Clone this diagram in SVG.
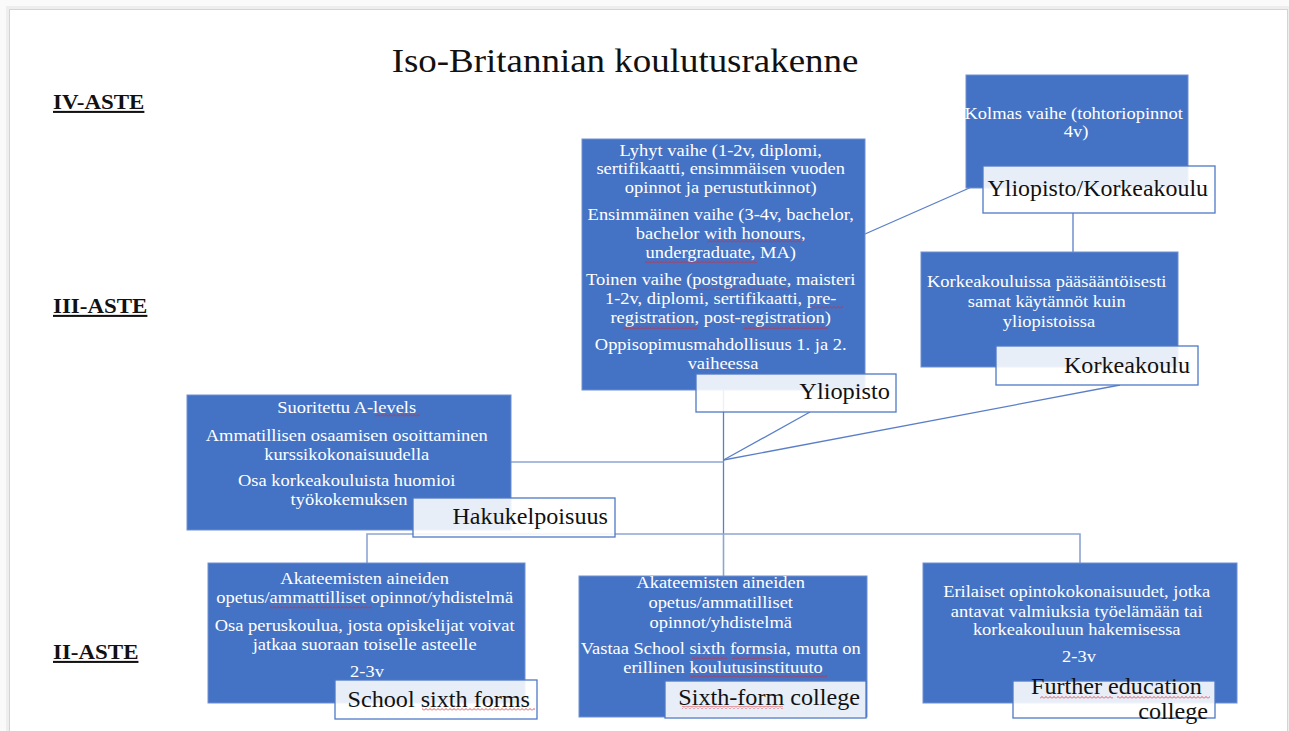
<svg xmlns="http://www.w3.org/2000/svg" width="1289" height="731" viewBox="0 0 1289 731">
  <defs>
    <!-- red wavy spell-check underline -->
    <pattern id="squiggle" patternUnits="userSpaceOnUse" width="4" height="3">
      <path d="M0 2.5 L2 0.5 L4 2.5" fill="none" stroke="#e0262b" stroke-width="0.8"/>
    </pattern>
    <style>
      .page { fill: #ffffff; stroke: #d4d4d4; stroke-width: 1; }
      .box { fill: #4472c4; stroke: #6f90cf; stroke-width: 1; }
      .tag { fill: #ffffff; fill-opacity: 0.88; stroke: #4f79c7; stroke-width: 1.3; }
      .body { font-family: "Liberation Serif", "Times New Roman", serif; font-size: 16.5px; fill: #ffffff; text-anchor: middle; }
      .lab { font-family: "Liberation Serif", "Times New Roman", serif; font-size: 23px; fill: #111111; text-anchor: end; }
      .title { font-family: "Liberation Serif", "Times New Roman", serif; font-size: 33px; fill: #111111; text-anchor: middle; }
      .level { font-family: "Liberation Serif", "Times New Roman", serif; font-size: 20.5px; font-weight: bold; fill: #111111; text-decoration: underline; }
      .link { stroke: #5a7fc8; stroke-width: 1.3; fill: none; }
      .bar { stroke: #8ea5d3; stroke-width: 1.6; fill: none; }
      .sq { fill: url(#squiggle); }
    </style>
  </defs>

  <!-- slide frame -->
  <rect x="0" y="0" width="1289" height="731" fill="#fafafa"/>
  <rect x="6" y="6" width="1283" height="725" fill="#eeeeee"/>
  <rect class="page" x="9.5" y="9.5" width="1278" height="725"/>

  <!-- title -->
  <g transform="translate(625 0) scale(1.12 1)">
    <text class="title" x="0" y="72">Iso-Britannian koulutusrakenne</text>
  </g>

  <!-- level headings -->
  <g id="levels">
    <g transform="translate(53 0) scale(1.12 1)"><text class="level" x="0" y="109">IV-ASTE</text></g>
    <g transform="translate(53 0) scale(1.12 1)"><text class="level" x="0" y="313">III-ASTE</text></g>
    <g transform="translate(53 0) scale(1.12 1)"><text class="level" x="0" y="659">II-ASTE</text></g>
  </g>

  <!-- connectors -->
  <g id="connectors">
    <line class="link" x1="865" y1="234" x2="983" y2="182"/>
    <line class="link" x1="1073" y1="213" x2="1073" y2="252"/>
    <line class="link" x1="723.5" y1="390" x2="723.5" y2="534"/>
    <line class="bar" x1="723.5" y1="534" x2="723.5" y2="576"/>
    <line class="link" x1="723.5" y1="460" x2="810" y2="412"/>
    <line class="link" x1="723.5" y1="460" x2="1120" y2="385"/>
    <line class="bar" x1="511" y1="462" x2="723.5" y2="462"/>
    <polyline class="bar" points="367,563 367,534 1080,534 1080,563"/>
  </g>

  <!-- Yliopisto -->
  <g id="yliopisto">
    <rect class="box" x="582" y="139" width="283" height="251"/>
    <g transform="translate(723 0) scale(1.12 1)">
      <text class="body">
        <tspan x="0" y="156">Lyhyt vaihe (1-2v, diplomi,</tspan>
        <tspan x="0" y="174">sertifikaatti, ensimmäisen vuoden</tspan>
        <tspan x="0" y="193">opinnot ja perustutkinnot)</tspan>
        <tspan x="0" y="220">Ensimmäinen vaihe (3-4v, bachelor,</tspan>
        <tspan x="0" y="239">bachelor with honours,</tspan>
        <tspan x="0" y="258">undergraduate, MA)</tspan>
        <tspan x="0" y="285">Toinen vaihe (postgraduate, maisteri</tspan>
        <tspan x="0" y="304">1-2v, diplomi, sertifikaatti, pre-</tspan>
        <tspan x="0" y="323">registration, post-registration)</tspan>
        <tspan x="0" y="350">Oppisopimusmahdollisuus 1. ja 2.</tspan>
        <tspan x="0" y="369">vaiheessa</tspan>
      </text>
    </g>
    <rect class="sq" x="707" y="240" width="96" height="3"/>
    <rect class="sq" x="645" y="260" width="112" height="3"/>
    <rect class="sq" x="695" y="287" width="95" height="3"/>
    <rect class="sq" x="810" y="306" width="33" height="3"/>
    <rect class="sq" x="623" y="326" width="75" height="3"/>
    <rect class="sq" x="743" y="326" width="85" height="3"/>
    <rect class="tag" x="696" y="374" width="200" height="38"/>
    <g transform="translate(890 0) scale(1.06 1)"><text class="lab" x="0" y="399">Yliopisto</text></g>
  </g>

  <!-- Yliopisto/Korkeakoulu -->
  <g id="tohtori">
    <rect class="box" x="966" y="75" width="222" height="113"/>
    <g transform="translate(1076 0) scale(1.12 1)">
      <text class="body">
        <tspan x="0" y="119">Kolmas vaihe (tohtoriopinnot</tspan>
        <tspan x="0" y="137">4v)</tspan>
      </text>
    </g>
    <rect class="tag" x="983" y="166" width="232" height="47"/>
    <g transform="translate(1208 0) scale(1.04 1)"><text class="lab" x="0" y="196">Yliopisto/Korkeakoulu</text></g>
  </g>

  <!-- Korkeakoulu -->
  <g id="korkeakoulu">
    <rect class="box" x="921" y="252" width="257" height="115"/>
    <g transform="translate(1049 0) scale(1.12 1)">
      <text class="body">
        <tspan x="0" y="287">Korkeakouluissa pääsääntöisesti</tspan>
        <tspan x="0" y="307">samat käytännöt kuin</tspan>
        <tspan x="0" y="327">yliopistoissa</tspan>
      </text>
    </g>
    <rect class="tag" x="996" y="346" width="202" height="39"/>
    <g transform="translate(1190 0) scale(1.05 1)"><text class="lab" x="0" y="373">Korkeakoulu</text></g>
  </g>

  <!-- Hakukelpoisuus -->
  <g id="hakukelpoisuus">
    <rect class="box" x="187" y="395" width="324" height="135"/>
    <g transform="translate(349 0) scale(1.12 1)">
      <text class="body">
        <tspan x="0" y="413">Suoritettu A-levels</tspan>
        <tspan x="0" y="441">Ammatillisen osaamisen osoittaminen</tspan>
        <tspan x="0" y="460">kurssikokonaisuudella</tspan>
        <tspan x="0" y="486">Osa korkeakouluista huomioi</tspan>
        <tspan x="0" y="505">työkokemuksen</tspan>
      </text>
    </g>
    <rect class="sq" x="375" y="414" width="45" height="3"/>
    <rect class="tag" x="413" y="498" width="202" height="39"/>
    <g transform="translate(608 0) scale(1.05 1)"><text class="lab" x="0" y="524">Hakukelpoisuus</text></g>
  </g>

  <!-- School sixth forms -->
  <g id="school-sixth-forms">
    <rect class="box" x="208" y="563" width="317" height="140"/>
    <g transform="translate(367 0) scale(1.12 1)">
      <text class="body">
        <tspan x="0" y="584">Akateemisten aineiden</tspan>
        <tspan x="0" y="603">opetus/ammattilliset opinnot/yhdistelmä</tspan>
        <tspan x="0" y="631">Osa peruskoulua, josta opiskelijat voivat</tspan>
        <tspan x="0" y="650">jatkaa suoraan toiselle asteelle</tspan>
        <tspan x="0" y="677">2-3v</tspan>
      </text>
    </g>
    <rect class="sq" x="270" y="606" width="102" height="3"/>
    <rect class="tag" x="335" y="680" width="202" height="39"/>
    <g transform="translate(530 0) scale(1.05 1)"><text class="lab" x="0" y="707">School sixth forms</text></g>
    <rect class="sq" x="422" y="708" width="113" height="3"/>
  </g>

  <!-- Sixth-form college -->
  <g id="sixth-form-college">
    <rect class="box" x="579" y="576" width="288" height="141"/>
    <g transform="translate(723 0) scale(1.12 1)">
      <text class="body">
        <tspan x="0" y="588">Akateemisten aineiden</tspan>
        <tspan x="0" y="608">opetus/ammatilliset</tspan>
        <tspan x="0" y="628">opinnot/yhdistelmä</tspan>
        <tspan x="0" y="654">Vastaa School sixth formsia, mutta on</tspan>
        <tspan x="0" y="673">erillinen koulutusinstituuto</tspan>
      </text>
    </g>
    <rect class="sq" x="692" y="656" width="35" height="3"/>
    <rect class="sq" x="732" y="656" width="40" height="3"/>
    <rect class="sq" x="690" y="675" width="137" height="3"/>
    <rect class="tag" x="665" y="681" width="201" height="37"/>
    <g transform="translate(860 0) scale(1.05 1)"><text class="lab" x="0" y="705">Sixth-form college</text></g>
    <rect class="sq" x="682" y="706" width="101" height="3"/>
  </g>

  <!-- Further education college -->
  <g id="further-education-college">
    <rect class="box" x="923" y="563" width="314" height="140"/>
    <g transform="translate(1079 0) scale(1.12 1)">
      <text class="body">
        <tspan x="0" y="597">Erilaiset opintokokonaisuudet, jotka</tspan>
        <tspan x="0" y="617">antavat valmiuksia työelämään tai</tspan>
        <tspan x="0" y="635">korkeakouluun hakemisessa</tspan>
        <tspan x="0" y="662">2-3v</tspan>
      </text>
    </g>
    <rect class="tag" x="1013" y="681" width="202" height="37"/>
    <g transform="translate(1208 0) scale(1.05 1)">
      <text class="lab">
        <tspan x="0" y="694">Further education</tspan>
        <tspan x="0" y="719">college</tspan>
      </text>
    </g>
    <rect class="sq" x="1040" y="696" width="73" height="3"/>
    <rect class="sq" x="1117" y="696" width="93" height="3"/>
  </g>
</svg>
